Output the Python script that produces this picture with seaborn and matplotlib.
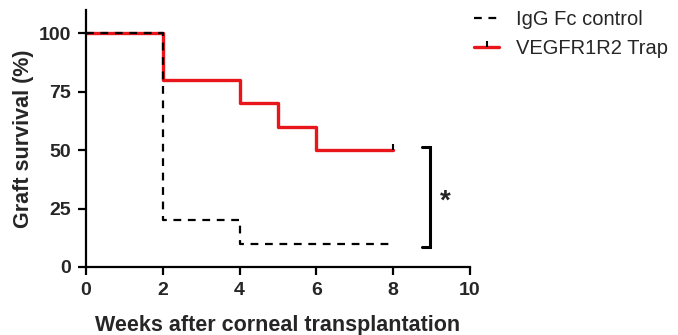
import matplotlib
matplotlib.use('Agg')
import matplotlib.pyplot as plt
import seaborn as sns
import pandas as pd

# Kaplan-Meier steps
weeks_ctrl = [0, 2, 4, 8]
surv_ctrl = [100, 20, 10, 10]
weeks_trap = [0, 2, 4, 5, 6, 8]
surv_trap = [100, 80, 70, 60, 50, 50]
x_ticks = [0, 2, 4, 6, 8, 10]
y_ticks = [0, 25, 50, 75, 100]

sns.set_style('ticks')
plt.rcParams['font.family'] = ['Liberation Sans', 'DejaVu Sans']

fig = plt.figure(figsize=(6.78, 3.35), dpi=100)
ax = fig.add_axes([0.127, 0.203, 0.566, 0.767])

df_ctrl = pd.DataFrame({'week': weeks_ctrl, 'surv': surv_ctrl})
df_trap = pd.DataFrame({'week': weeks_trap, 'surv': surv_trap})

sns.lineplot(data=df_trap, x='week', y='surv', ax=ax, color='#e8161b', linewidth=2.4,
             drawstyle='steps-post', marker=2, markevery=[len(weeks_trap) - 1],
             markersize=4, markeredgewidth=1.5, markeredgecolor='black',
             label='VEGFR1R2 Trap', zorder=2)
sns.lineplot(data=df_ctrl, x='week', y='surv', ax=ax, color='black', linewidth=1.6,
             drawstyle='steps-post', dashes=False, linestyle=(0, (3.5, 3)),
             marker=2, markevery=[len(weeks_ctrl) - 1], markersize=4, markeredgewidth=1.5,
             label='IgG Fc control', zorder=3)

ax.set_xlim(0, 10)
ax.set_ylim(0, 110)
ax.set_xticks(x_ticks)
ax.set_yticks(y_ticks)
for s in ['top', 'right']:
    ax.spines[s].set_visible(False)
for s in ['left', 'bottom']:
    ax.spines[s].set_linewidth(1.6)
    ax.spines[s].set_color('black')
ax.tick_params(width=1.6, length=6, labelsize=14, color='black', pad=5)
for lab in ax.get_xticklabels() + ax.get_yticklabels():
    lab.set_fontweight('bold')
ax.set_xlabel('Weeks after corneal transplantation', fontsize=15.5, fontweight='bold', labelpad=11)
ax.set_ylabel('Graft survival (%)', fontsize=15.5, fontweight='bold', labelpad=3)

# significance bracket
ax.plot([8.75, 8.95, 8.95, 8.75], [51.5, 51.5, 8.5, 8.5], color='black', lw=2.2,
        clip_on=False, solid_joinstyle='miter')
ax.text(9.35, 28, '*', fontsize=20, fontweight='bold', ha='center', va='center')

handles, labels = ax.get_legend_handles_labels()
ax.legend(handles[::-1], labels[::-1], loc='upper left', bbox_to_anchor=(0.99, 1.03),
          borderaxespad=0, frameon=False, fontsize=14.5, handlelength=1.25,
          handletextpad=0.85, labelspacing=0.5)

fig.savefig('out.png', dpi=100)
